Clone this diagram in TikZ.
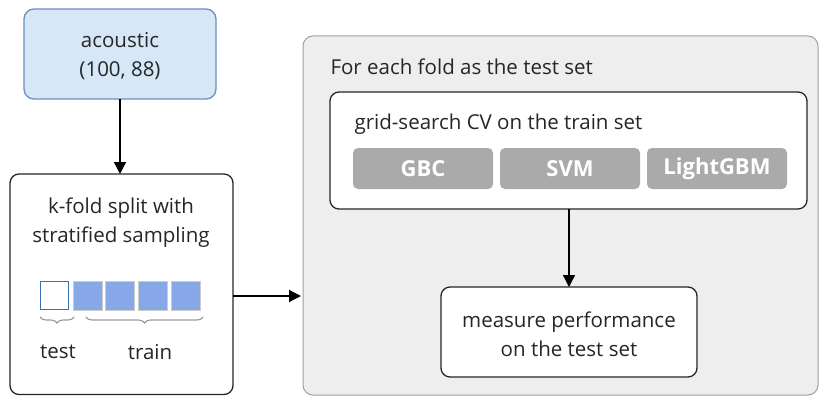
\documentclass[tikz,border=0pt]{standalone}
\usepackage{fontspec}
\setmainfont{Open Sans}
\usetikzlibrary{decorations.pathreplacing,arrows.meta}
\definecolor{accfill}{HTML}{D6E7F7}
\definecolor{accline}{HTML}{6C8EBF}
\definecolor{foldfill}{HTML}{87A7E8}
\definecolor{testline}{HTML}{3B6FB6}
\definecolor{outerfill}{HTML}{EEEEEE}
\definecolor{outerline}{HTML}{A0A0A0}
\definecolor{modelfill}{HTML}{AAAAAA}
\definecolor{bracegray}{HTML}{9A9A9A}
\tikzset{
  box/.style={draw=black!85, line width=1.3pt, rounded corners=9pt, fill=white},
  lbl/.style={font=\fontsize{20.5}{29}\selectfont, align=center, text=black!85},
  model/.style={fill=modelfill, rounded corners=5pt, text=white, font=\fontsize{22}{24}\selectfont\bfseries},
  fold/.style={fill=foldfill, draw=black!20, line width=0.4pt},
  arr/.style={-{Triangle[length=12pt,width=12pt]}, line width=1.3pt, black},
  brc/.style={draw=bracegray, line width=1.1pt, decorate, decoration={brace, mirror, amplitude=6pt, aspect=0.5}}
}
\begin{document}
\begin{tikzpicture}[x=1pt,y=-1pt]
\useasboundingbox (0,0) rectangle (820,396);
% acoustic
\draw[fill=accfill, draw=accline, line width=1.3pt, rounded corners=10pt] (24,9) rectangle (216,99);
\node[lbl] (acoustic) at (120,56) {acoustic\\(100, 88)};
\coordinate (accb) at (120,99);
% kfold
\draw[box] (10,174) rectangle (233,394.5);
\coordinate (kft) at (120,174);
\coordinate (kfr) at (233,296);
\node[lbl] (kfold) at (121,223) {k-fold split with\\stratified sampling};
\node[fill=white, draw=testline, line width=1.2pt, minimum width=28pt, minimum height=28pt, inner sep=0pt] (f1) at (54.5,295.5) {};
\node[fold, minimum width=29pt, minimum height=29pt, inner sep=0pt] (f2) at (87.5,295.5) {};
\node[fold, minimum width=29pt, minimum height=29pt, inner sep=0pt] (f3) at (120,295.5) {};
\node[fold, minimum width=29pt, minimum height=29pt, inner sep=0pt] (f4) at (152.5,295.5) {};
\node[fold, minimum width=29pt, minimum height=29pt, inner sep=0pt] (f5) at (185.5,295.5) {};
\draw[brc] (40,317) -- (74,317);
\draw[brc] (86,317) -- (203,317);
\node[lbl] (test) at (58,352) {test};
\node[lbl] (train) at (150,352) {train};
% outer container
\draw[fill=outerfill, draw=outerline, line width=1pt, rounded corners=10pt] (303,36) rectangle (818,395);
\coordinate (outl) at (301,296);
\node[lbl, anchor=west] (foreach) at (327,67) {For each fold as the test set};
% grid search
\draw[box] (330,92) rectangle (807,209);
\node[lbl, anchor=west] (grid) at (351,124) {grid-search CV on the train set};
\node[model, minimum width=140pt, minimum height=41pt, inner sep=0pt] (gbc) at (423,168.5) {GBC};
\node[model, minimum width=140pt, minimum height=41pt, inner sep=0pt] (svm) at (570,168.5) {SVM};
\node[model, minimum width=140pt, minimum height=41pt, inner sep=0pt] (lgbm) at (717,168.5) {LightGBM};
\coordinate (gsb) at (569,209);
% measure
\draw[box] (441,287) rectangle (697,377);
\coordinate (mt) at (569,287);
\node[lbl] (measure) at (569,334) {measure performance\\on the test set};
% arrows
\draw[arr] (accb) -- (kft);
\draw[arr] (kfr) -- (outl);
\draw[arr] (gsb) -- (mt);
\end{tikzpicture}
\end{document}
